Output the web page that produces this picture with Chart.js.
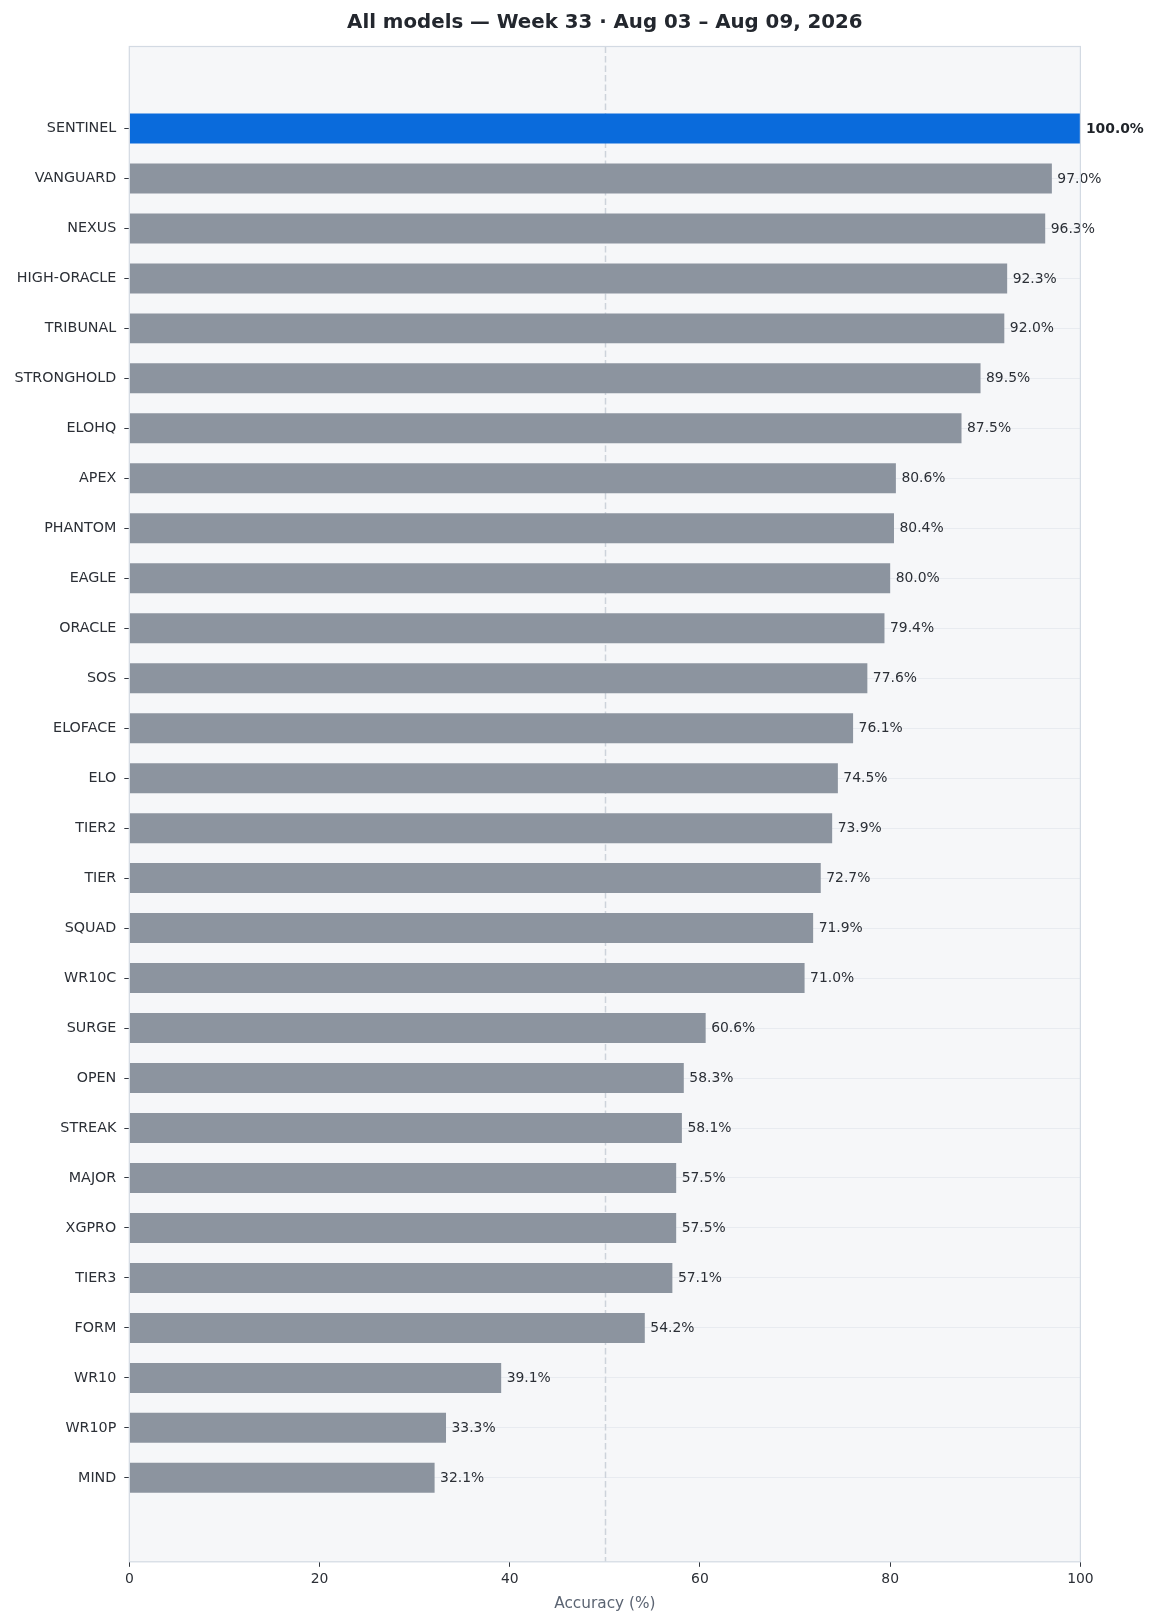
<!DOCTYPE html>
<html>
<head>
<meta charset="utf-8">
<script src="https://cdn.jsdelivr.net/npm/chart.js@4"></script>
<style>
  html, body { margin: 0; padding: 0; background: #ffffff; }
  #wrap { width: 1158px; height: 1623px; }
</style>
</head>
<body>
<div id="wrap"><canvas id="c" width="1158" height="1623"></canvas></div>
<script>
const categories = ['SENTINEL','VANGUARD','NEXUS','HIGH-ORACLE','TRIBUNAL','STRONGHOLD','ELOHQ','APEX','PHANTOM','EAGLE','ORACLE','SOS','ELOFACE','ELO','TIER2','TIER','SQUAD','WR10C','SURGE','OPEN','STREAK','MAJOR','XGPRO','TIER3','FORM','WR10','WR10P','MIND'];
const values = [100.0,97.0,96.3,92.3,92.0,89.5,87.5,80.6,80.4,80.0,79.4,77.6,76.1,74.5,73.9,72.7,71.9,71.0,60.6,58.3,58.1,57.5,57.5,57.1,54.2,39.1,33.3,32.1];
const xTicks = [0,20,40,60,80,100];
const highlighted = 'SENTINEL';
const referenceLine = 50;
const titleText = 'All models \u2014 Week 33 \u00b7 Aug 03 \u2013 Aug 09, 2026';
const xTitle = 'Accuracy (%)';

const FONT = "'DejaVu Sans', sans-serif";
const BLUE = '#0a6bdc';
const GRAY = '#8c949f';
const TEXT = '#2b2f36';

const areaPlugin = {
  id: 'area',
  beforeDraw(chart) {
    const {ctx, chartArea: a} = chart;
    ctx.save();
    ctx.fillStyle = '#f6f7f9';
    ctx.fillRect(a.left, a.top, a.right - a.left, a.bottom - a.top);
    ctx.restore();
  },
  beforeDatasetsDraw(chart) {
    const {ctx, chartArea: a, scales} = chart;
    const x = Math.round(scales.x.getPixelForValue(referenceLine)) + 0.5;
    ctx.save();
    ctx.strokeStyle = '#cdd3db';
    ctx.lineWidth = 1.5;
    ctx.setLineDash([6.5, 3]);
    ctx.beginPath();
    ctx.moveTo(x, a.top);
    ctx.lineTo(x, a.bottom);
    ctx.stroke();
    ctx.restore();
  },
  afterDatasetsDraw(chart) {
    const {ctx, chartArea: a} = chart;
    const meta = chart.getDatasetMeta(0);
    ctx.save();
    ctx.textBaseline = 'middle';
    ctx.textAlign = 'left';
    meta.data.forEach((bar, i) => {
      const bold = categories[i] === highlighted;
      ctx.font = (bold ? 'bold ' : '') + '13.9px ' + FONT;
      ctx.fillStyle = bold ? '#1f2329' : TEXT;
      ctx.fillText(values[i].toFixed(1) + '%', bar.x + 5.5, bar.y + 0.5);
    });
    ctx.strokeStyle = '#d3dae3';
    ctx.lineWidth = 1.2;
    ctx.strokeRect(a.left, a.top, a.right - a.left, a.bottom - a.top);
    ctx.restore();
  }
};

new Chart(document.getElementById('c'), {
  type: 'bar',
  data: {
    datasets: [{
      data: values.map((v, i) => ({x: v, y: i})),
      backgroundColor: categories.map(c => c === highlighted ? BLUE : GRAY),
      borderWidth: 0,
      barPercentage: 0.6,
      categoryPercentage: 1.0
    }]
  },
  options: {
    indexAxis: 'y',
    responsive: false,
    animation: false,
    devicePixelRatio: 1,
    layout: { padding: { left: 0, right: 1158 - 1080.4, top: 0, bottom: 0 } },
    plugins: {
      legend: { display: false },
      tooltip: { enabled: false },
      title: {
        display: true,
        text: titleText,
        fullSize: false,
        color: '#23272e',
        font: { family: FONT, size: 19.8, weight: 'bold', lineHeight: 1.2 },
        padding: { top: 10.5, bottom: 46.5 - 10.5 - 19.8 * 1.2 }
      }
    },
    scales: {
      x: {
        type: 'linear',
        position: 'bottom',
        min: 0, max: 100,
        offset: false,
        afterBuildTicks: s => { s.ticks = xTicks.map(v => ({value: v})); },
        afterFit: s => { s.height = 1623 - 1561.8; },
        grid: { offset: false, drawOnChartArea: false, drawTicks: true, tickLength: 5, tickColor: '#333840', tickWidth: 1 },
        border: { display: false },
        ticks: { color: TEXT, font: { family: FONT, size: 13.9 }, padding: 4 },
        title: { display: true, text: xTitle, color: '#5b6472', font: { family: FONT, size: 15.3 }, padding: { top: 12, bottom: 10 } }
      },
      y: {
        type: 'linear',
        reverse: true,
        offset: false,
        min: -1.64, max: 28.68,
        afterBuildTicks: s => { s.ticks = categories.map((c, i) => ({value: i})); },
        afterFit: s => { s.width = 129.3; },
        grid: { offset: false, color: '#e8ebf0', lineWidth: 1, drawTicks: true, tickLength: 5, tickColor: '#333840', tickWidth: 1 },
        border: { display: false },
        ticks: { autoSkip: false, color: TEXT, font: { family: FONT, size: 14.3 }, padding: 8, callback: v => categories[v] }
      }
    }
  },
  plugins: [areaPlugin]
});
</script>
</body>
</html>
